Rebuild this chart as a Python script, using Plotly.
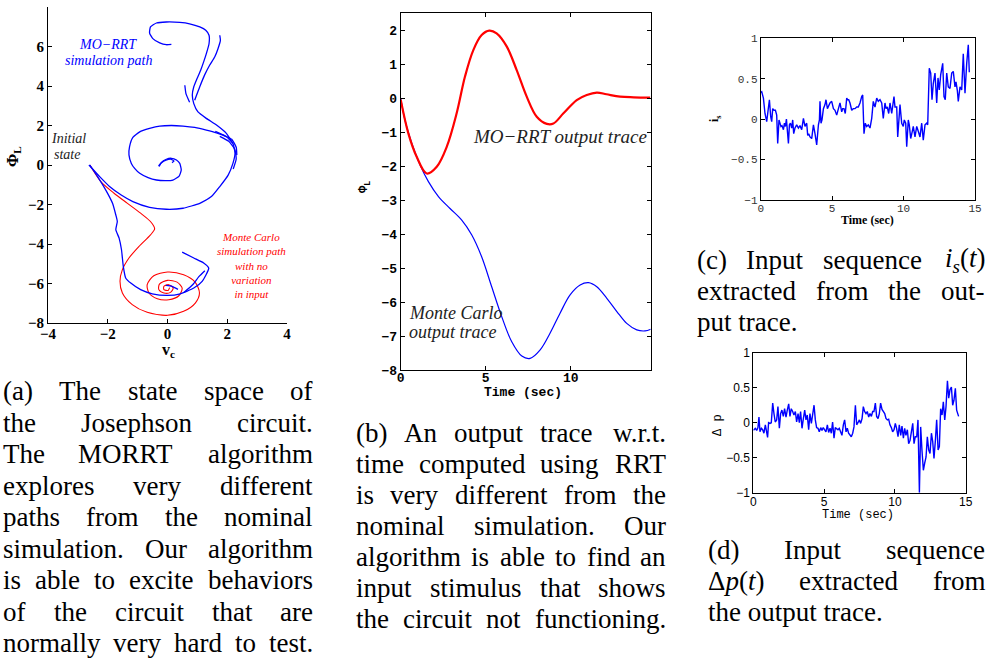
import plotly.graph_objects as go

W, H = 986, 664

# ---------------- Panel (a): state space (v_c , Phi_L) ----------------
# Monte Carlo path (red)
a_mc_vc = [-2.6, -2.23, -1.79, -1.34, -0.9, -0.57, -0.43, -0.57, -0.96, -1.29, -1.51, -1.59, -1.51,
           -1.18, -0.68, 0.0, 0.54, 0.93, 1.07, 0.93, 0.54, 0.0, -0.46, -0.68, -0.62, -0.34, 0.04,
           0.38, 0.49, 0.32, 0.0, -0.27, -0.29, -0.12, 0.1, 0.19, 0.04, -0.12, -0.12, 0.02, 0.07]
a_mc_phi = [0.0, -0.84, -1.43, -1.94, -2.44, -2.86, -3.23, -3.54, -4.13, -4.71, -5.3, -5.89, -6.48,
            -7.07, -7.46, -7.61, -7.41, -6.99, -6.48, -5.94, -5.56, -5.42, -5.61, -6.06, -6.48, -6.77, -6.82,
            -6.62, -6.23, -5.93, -5.84, -6.03, -6.31, -6.48, -6.45, -6.23, -6.06, -6.14, -6.31, -6.35, -6.21]

# MO-RRT tree branches (blue)
a_rrt_outer_vc = [-2.63, -2.27, -1.94, -1.55, -1.16, -0.6, -0.04, 0.52, 1.08, 1.47, 1.75, 2.03, 2.19, 2.26,
                  2.19, 1.97, 1.64, 1.3, 0.91, 0.52, 0.13, -0.26, -0.6, -0.93, -1.16, -1.27, -1.29, -1.21,
                  -1.1, -0.93, -0.65, -0.37, -0.04, 0.18, 0.39, 0.46, 0.41, 0.3, 0.13, -0.04, -0.21, -0.28]
a_rrt_outer_phi = [0.0, -0.59, -1.09, -1.52, -1.85, -2.14, -2.24, -2.19, -1.94, -1.6, -1.09, -0.51, 0.08, 0.59,
                   1.09, 1.43, 1.63, 1.77, 1.9, 1.97, 2.0, 1.97, 1.85, 1.68, 1.4, 0.93, 0.51, 0.08,
                   -0.17, -0.42, -0.64, -0.76, -0.79, -0.76, -0.56, -0.25, 0.08, 0.25, 0.34, 0.29, 0.12, -0.08]
a_rrt_core_vc = [-0.3, -0.2, -0.05, 0.1, 0.22, 0.15]
a_rrt_core_phi = [-0.05, 0.12, 0.25, 0.3, 0.2, 0.12]
a_rrt_upper_vc = [2.19, 1.97, 1.64, 1.3, 1.02, 0.88, 0.83, 0.88, 0.99, 1.11, 1.21, 1.3, 1.39, 1.39, 1.28,
                  1.08, 0.74, 0.41, -0.04, -0.37, -0.57, -0.6, -0.49, -0.26, -0.04, 0.13]
a_rrt_upper_phi = [1.09, 1.6, 2.02, 2.36, 2.69, 3.11, 3.54, 3.96, 4.38, 4.8, 5.22, 5.64, 6.14, 6.57, 6.82,
                   6.99, 7.15, 7.22, 7.24, 7.19, 6.99, 6.68, 6.4, 6.18, 6.09, 6.11]
a_rrt_side_vc = [0.91, 1.08, 1.24, 1.41, 1.58, 1.69, 1.77, 1.75]
a_rrt_side_phi = [3.28, 3.96, 4.55, 5.05, 5.47, 5.89, 6.31, 6.57]
a_rrt_stub_vc = [0.58, 0.62, 0.74]
a_rrt_stub_phi = [4.04, 3.6, 3.18]
a_rrt_bundle_vc = [1.75, 2.05, 2.25, 2.3, 2.2]
a_rrt_bundle_phi = [1.45, 1.2, 0.8, 0.3, -0.2]
a_rrt_bundle2_vc = [1.6, 1.9, 2.15, 2.3, 2.32]
a_rrt_bundle2_phi = [1.7, 1.5, 1.3, 0.9, 0.5]
a_rrt_lower_vc = [-2.6, -2.34, -2.07, -1.84, -1.73, -1.68, -1.73, -1.62, -1.54, -1.48, -1.4, -1.23, -0.9,
                  -0.51, 0.0, 0.43, 0.88, 1.16, 1.38, 1.21, 0.88, 0.49]
a_rrt_lower_phi = [0.0, -0.59, -1.26, -1.94, -2.53, -2.86, -3.28, -3.7, -4.29, -5.13, -5.72, -5.98, -6.31,
                   -6.52, -6.6, -6.52, -6.23, -5.89, -5.22, -4.96, -4.71, -4.41]
a_rrt_twig_vc = [0.55, 0.85, 1.05, 1.25]
a_rrt_twig_phi = [-6.45, -6.05, -5.65, -5.35]
a_rrt_twig2_vc = [-0.05, 0.15, 0.35]
a_rrt_twig2_phi = [-6.1, -6.15, -6.3]

a_xticks = [-4, -2, 0, 2, 4]
a_yticks = [-8, -6, -4, -2, 0, 2, 4, 6, 8]

# ---------------- Panel (b): output trace vs time ----------------
b_rrt_t = [0, 0.45, 0.94, 1.53, 2.12, 2.71, 3.29, 3.78, 4.27, 4.76, 5.21, 5.64, 6.24, 6.82, 7.41, 8.0,
           8.59, 8.98, 9.57, 10.35, 10.94, 11.53, 12.1, 12.9, 13.7, 14.67]
b_rrt_phi = [-0.05, -1.04, -1.73, -2.22, -2.02, -1.43, -0.45, 0.63, 1.41, 1.85, 1.98, 1.9, 1.51, 0.82, 0.04,
             -0.55, -0.76, -0.75, -0.45, -0.06, 0.09, 0.16, 0.11, 0.04, 0.02, 0.01]
b_mc_t = [0, 0.25, 0.65, 1.14, 1.63, 2.22, 2.9, 3.59, 4.18, 4.76, 5.35, 5.94, 6.53, 7.12, 7.61, 8.2, 8.78,
          9.37, 9.96, 10.55, 11.04, 11.53, 12.12, 12.71, 13.29, 13.88, 14.37, 14.7]
b_mc_phi = [0.0, -0.65, -1.33, -1.97, -2.46, -2.9, -3.25, -3.59, -4.03, -4.67, -5.55, -6.43, -7.17, -7.59,
            -7.66, -7.41, -6.92, -6.33, -5.79, -5.5, -5.43, -5.55, -5.89, -6.28, -6.63, -6.82, -6.85, -6.8]
b_xticks = [0, 5, 10]
b_yticks = [-8, -7, -6, -5, -4, -3, -2, -1, 0, 1, 2]

# ---------------- Panel (c): input sequence i_s(t) ----------------
c_t = [0.0, 0.07, 0.19, 0.30, 0.42, 0.54, 0.61, 0.70, 0.77, 0.84,
       0.93, 1.03, 1.12, 1.19, 1.28, 1.35, 1.42, 1.49, 1.59, 1.66,
       1.73, 1.80, 1.87, 1.94, 2.01, 2.08, 2.17, 2.24, 2.31, 2.40,
       2.52, 2.64, 2.75, 2.87, 2.99, 3.10, 3.22, 3.29, 3.36, 3.45,
       3.57, 3.69, 3.80, 3.92, 4.04, 4.11, 4.15, 4.22, 4.29, 4.39,
       4.50, 4.57, 4.67, 4.76, 4.85, 4.97, 5.09, 5.20, 5.32, 5.44,
       5.55, 5.67, 5.74, 5.83, 5.92, 6.02, 6.09, 6.16, 6.25, 6.37,
       6.48, 6.60, 6.72, 6.83, 6.95, 7.07, 7.14, 7.23, 7.32, 7.42,
       7.53, 7.65, 7.77, 7.88, 8.00, 8.12, 8.23, 8.35, 8.47, 8.58,
       8.70, 8.77, 8.86, 8.96, 9.05, 9.17, 9.24, 9.33, 9.40, 9.52,
       9.59, 9.68, 9.75, 9.87, 9.98, 10.05, 10.15, 10.22, 10.33, 10.40,
       10.50, 10.61, 10.68, 10.80, 10.92, 11.03, 11.15, 11.27, 11.38, 11.50,
       11.62, 11.69, 11.80, 11.90, 11.99, 12.08, 12.20, 12.32, 12.41, 12.50,
       12.60, 12.74, 12.83, 12.92, 13.02, 13.13, 13.25, 13.37, 13.48, 13.60,
       13.67, 13.76, 13.83, 13.95, 14.07, 14.18, 14.30, 14.42, 14.53, 14.60]
c_is = [0.33, 0.34, 0.26, 0.07, -0.03, 0.13, 0.24, 0.03, -0.03, 0.13,
        0.11, 0.11, 0.05, -0.30, -0.01, -0.05, -0.09, -0.08, -0.13, -0.05,
        -0.09, 0.00, -0.20, -0.30, -0.07, -0.05, -0.11, -0.01, -0.18, -0.11,
        -0.07, -0.11, -0.08, -0.13, 0.01, -0.09, -0.05, -0.20, -0.18, -0.22,
        -0.24, -0.07, -0.18, -0.32, -0.07, -0.01, 0.22, -0.05, -0.01, 0.13,
        0.18, 0.24, 0.13, 0.18, 0.20, 0.22, 0.13, 0.11, 0.05, 0.13,
        0.20, 0.09, 0.13, 0.13, 0.07, 0.26, 0.24, 0.24, 0.20, 0.11,
        0.13, 0.13, 0.15, 0.15, 0.20, 0.28, 0.30, -0.18, -0.05, -0.09,
        -0.07, -0.11, 0.01, 0.22, 0.15, 0.26, 0.22, 0.24, 0.20, 0.01,
        0.20, 0.13, 0.15, 0.07, 0.20, 0.07, 0.18, 0.28, 0.15, 0.15,
        -0.22, 0.05, 0.18, -0.05, -0.09, -0.01, -0.05, -0.34, -0.01, -0.07,
        -0.24, -0.15, -0.09, -0.22, -0.09, -0.15, -0.22, -0.05, -0.26, -0.07,
        -0.05, -0.07, 0.63, 0.57, 0.24, 0.44, 0.57, 0.20, 0.51, 0.36,
        0.55, 0.69, 0.28, 0.24, 0.57, 0.40, 0.38, 0.57, 0.59, 0.40,
        0.46, 0.36, 0.22, 0.40, 0.36, 0.81, 0.32, 0.69, 0.92, 0.58]

# ---------------- Panel (d): input sequence Delta p(t) ----------------
d_t = [0.00, 0.05, 0.14, 0.24, 0.33, 0.40, 0.47, 0.57, 0.66, 0.75,
       0.85, 0.94, 1.01, 1.08, 1.18, 1.27, 1.37, 1.46, 1.55, 1.65,
       1.74, 1.84, 1.93, 2.02, 2.12, 2.21, 2.31, 2.40, 2.50, 2.59,
       2.68, 2.78, 2.87, 2.97, 3.06, 3.16, 3.25, 3.34, 3.44, 3.53,
       3.63, 3.72, 3.81, 3.91, 4.00, 4.10, 4.19, 4.29, 4.38, 4.47,
       4.57, 4.66, 4.76, 4.85, 4.94, 5.04, 5.13, 5.23, 5.32, 5.42,
       5.51, 5.60, 5.70, 5.79, 5.89, 5.98, 6.07, 6.17, 6.26, 6.36,
       6.45, 6.55, 6.64, 6.73, 6.83, 6.92, 7.02, 7.11, 7.21, 7.30,
       7.39, 7.49, 7.58, 7.68, 7.77, 7.86, 7.96, 8.05, 8.15, 8.24,
       8.34, 8.43, 8.52, 8.62, 8.71, 8.81, 8.90, 8.99, 9.09, 9.18,
       9.28, 9.37, 9.47, 9.56, 9.65, 9.75, 9.84, 9.94, 10.03, 10.12,
       10.22, 10.31, 10.41, 10.50, 10.60, 10.69, 10.78, 10.88, 10.97, 11.07,
       11.16, 11.26, 11.35, 11.44, 11.54, 11.63, 11.73, 11.82, 11.91, 12.01,
       12.10, 12.20, 12.29, 12.39, 12.48, 12.58, 12.67, 12.76, 12.86, 12.95,
       13.05, 13.14, 13.23, 13.33, 13.42, 13.52, 13.61, 13.71, 13.80, 13.89,
       13.99, 14.08, 14.17, 14.27, 14.36, 14.46, 14.50]
d_dp = [-0.10, -0.10, -0.08, -0.11, -0.07, 0.08, -0.13, -0.08, -0.10, -0.15,
        -0.03, -0.13, -0.21, 0.00, -0.01, 0.00, 0.28, 0.13, 0.01, 0.04,
        0.23, -0.08, 0.13, 0.18, 0.09, 0.20, 0.08, 0.18, 0.27, 0.09,
        0.20, 0.16, 0.11, 0.16, 0.01, 0.13, 0.00, 0.16, -0.08, 0.05,
        0.18, 0.04, 0.11, -0.10, 0.13, -0.01, 0.09, 0.25, 0.04, -0.07,
        -0.08, -0.13, -0.07, -0.11, -0.07, -0.10, -0.13, -0.03, -0.14, -0.08,
        -0.15, 0.01, -0.22, -0.07, -0.08, -0.10, -0.08, -0.15, -0.18, -0.03,
        0.04, -0.13, -0.08, -0.15, -0.18, -0.20, -0.15, -0.06, 0.25, -0.03,
        0.00, 0.04, -0.01, 0.06, 0.23, 0.16, 0.13, 0.16, 0.08, 0.13,
        0.09, 0.16, 0.16, 0.28, 0.09, 0.06, 0.13, 0.28, 0.19, 0.16,
        0.13, 0.06, 0.04, 0.05, -0.03, -0.07, -0.13, -0.10, -0.01, -0.08,
        -0.20, -0.03, -0.18, -0.05, -0.22, -0.08, -0.18, -0.10, -0.30, -0.25,
        -0.13, -0.01, -0.30, -0.20, -0.20, 0.04, -1.00, -0.06, -0.39, -0.68,
        -0.58, -0.49, -0.20, -0.39, -0.44, -0.15, -0.27, -0.51, -0.25, 0.04,
        -0.39, -0.34, 0.20, 0.11, 0.30, 0.04, 0.23, 0.60, 0.35, 0.47,
        0.51, 0.25, 0.32, 0.49, 0.18, 0.11, 0.09]
cd_xticks = [0, 5, 10, 15]
cd_yticks = [-1, -0.5, 0, 0.5, 1]

# ---------------- Captions ----------------
cap_a = ["(a) The state space of", "the Josephson circuit.", "The MORRT algorithm",
         "explores very different", "paths from the nominal", "simulation. Our algorithm",
         "is able to excite behaviors", "of the circuit that are", "normally very hard to test."]
cap_b = ["(b) An output trace w.r.t.", "time computed using RRT", "is very different from the",
         "nominal simulation. Our", "algorithm is able to find an", "input stimulus that shows",
         "the circuit not functioning."]
cap_c = ["(c) Input sequence i_s(t)", "extracted from the out-", "put trace."]
cap_d = ["(d) Input sequence", "Δp(t) extracted from", "the output trace."]

# ====================================================================
BLUE = "#0000ff"
RED = "#ff0000"
SERIF = "Liberation Serif, Times New Roman, serif"
MONO = "Liberation Mono, Courier New, monospace"
SANS = "Liberation Sans, Arial, sans-serif"


def fx(px):
    return px / W


def fy(py):
    return 1 - py / H


fig = go.Figure()

# (a)
fig.add_trace(go.Scatter(x=a_mc_vc, y=a_mc_phi, mode="lines", xaxis="x", yaxis="y",
                         line=dict(color=RED, width=1.1, shape="spline", smoothing=0.8)))
for vc, phi in [(a_rrt_outer_vc, a_rrt_outer_phi), (a_rrt_core_vc, a_rrt_core_phi),
                (a_rrt_upper_vc, a_rrt_upper_phi), (a_rrt_side_vc, a_rrt_side_phi),
                (a_rrt_stub_vc, a_rrt_stub_phi), (a_rrt_bundle_vc, a_rrt_bundle_phi),
                (a_rrt_bundle2_vc, a_rrt_bundle2_phi), (a_rrt_lower_vc, a_rrt_lower_phi),
                (a_rrt_twig_vc, a_rrt_twig_phi), (a_rrt_twig2_vc, a_rrt_twig2_phi)]:
    fig.add_trace(go.Scatter(x=vc, y=phi, mode="lines", xaxis="x", yaxis="y",
                             line=dict(color=BLUE, width=1.3, shape="spline", smoothing=0.5)))

# (b)
fig.add_trace(go.Scatter(x=b_mc_t, y=b_mc_phi, mode="lines", xaxis="x2", yaxis="y2",
                         line=dict(color=BLUE, width=1.2, shape="spline")))
fig.add_trace(go.Scatter(x=b_rrt_t, y=b_rrt_phi, mode="lines", xaxis="x2", yaxis="y2",
                         line=dict(color=RED, width=2.2, shape="spline")))

# (c)
fig.add_trace(go.Scatter(x=c_t, y=c_is, mode="lines", xaxis="x3", yaxis="y3",
                         line=dict(color=BLUE, width=1.4)))
# (d)
fig.add_trace(go.Scatter(x=d_t, y=d_dp, mode="lines", xaxis="x4", yaxis="y4",
                         line=dict(color=BLUE, width=1.4)))


def axis(domain, rng, ticks, font, mirror, anchor, standoff=0):
    return dict(domain=domain, range=rng, tickvals=ticks, tickfont=font, anchor=anchor,
                showline=True, linecolor="black", linewidth=1, mirror=mirror,
                ticks="inside", ticklen=4, tickcolor="black", tickwidth=1,
                ticklabelstandoff=standoff,
                showgrid=False, zeroline=False, fixedrange=True, automargin=False)


fa = dict(family=SERIF, size=15, color="black", weight="bold")
fb = dict(family=MONO, size=13, color="black", weight="bold")
fc = dict(family=MONO, size=11, color="#333333")
fd = dict(family=SANS, size=12, color="black")

fig.update_layout(
    width=W, height=H, autosize=False, showlegend=False,
    margin=dict(l=0, r=0, t=0, b=0, pad=0),
    paper_bgcolor="white", plot_bgcolor="white",
    xaxis=axis([fx(48), fx(287)], [-4, 4], a_xticks, fa, False, "y", -3),
    yaxis=axis([fy(323), fy(7)], [-8, 8], a_yticks, fa, False, "x"),
    xaxis2=axis([fx(400.7), fx(650.7)], [0, 14.7], b_xticks, fb, "ticks", "y2", -5),
    yaxis2=axis([fy(370), fy(13)], [-8, 2.5], b_yticks, fb, "ticks", "x2"),
    xaxis3=axis([fx(760.7), fx(975)], [0, 15], cd_xticks, fc, "ticks", "y3", -2),
    yaxis3=axis([fy(200), fy(38.3)], [-1, 1], cd_yticks, fc, "ticks", "x3"),
    xaxis4=axis([fx(753.3), fx(965.7)], [0, 15], cd_xticks, fd, "ticks", "y4", -2),
    yaxis4=axis([fy(492.7), fy(352.7)], [-1, 1], cd_yticks, fd, "ticks", "x4"),
)

ann = []


def label(text, x, y, size, family=SERIF, color="black", xanchor="center", angle=0):
    ann.append(dict(text=text, x=fx(x), y=fy(y), xref="paper", yref="paper", showarrow=False,
                    xanchor=xanchor, yanchor="middle", textangle=angle, borderpad=0, borderwidth=0,
                    font=dict(family=family, size=size, color=color)))


# axis titles
label("<b>Φ<sub>L</sub></b>", 13, 157, 16, angle=-90)
label("<b>v<sub>c</sub></b>", 168, 350, 16)
label("<b>Time (sec)</b>", 523, 392, 13, family=MONO)
label("<b>Φ<sub>L</sub></b>", 365, 187, 12, family=MONO, angle=-90)
label("<b>Time (sec)</b>", 867, 220, 12)
label("<b>i<sub>s</sub></b>", 715, 119, 12, angle=-90)
label("Time (sec)", 858, 515, 12, family=MONO)
label("Δ p", 718, 425, 12, family=MONO, angle=-90)

# in-plot text (a)
label("<i>MO−RRT</i>", 108, 45, 14, color=BLUE)
label("<i>simulation path</i>", 109, 60, 14, color=BLUE)
label("<i>Initial</i>", 68, 138, 14, color="#222222")
label("<i>state</i>", 67, 154, 14, color="#222222")
label("<i>Monte Carlo<br>simulation path<br>with no<br>variation<br>in input</i>", 251, 265, 11, color=RED)
# in-plot text (b)
label("<i>MO−RRT output trace</i>", 560, 136, 19, color="#222222")
label("<i>Monte Carlo</i>", 409, 313, 18, color="#222222", xanchor="left")
label("<i>output trace</i>", 409, 332, 18, color="#222222", xanchor="left")

# captions with justified lines
TW = {'a': .444, 'b': .5, 'c': .444, 'd': .5, 'e': .444, 'f': .333, 'g': .5, 'h': .5, 'i': .278,
      'j': .278, 'k': .5, 'l': .278, 'm': .778, 'n': .5, 'o': .5, 'p': .5, 'q': .5, 'r': .333,
      's': .389, 't': .278, 'u': .5, 'v': .5, 'w': .722, 'x': .5, 'y': .5, 'z': .444,
      'A': .722, 'B': .667, 'C': .667, 'D': .722, 'E': .611, 'F': .556, 'G': .722, 'H': .722,
      'I': .333, 'J': .389, 'K': .722, 'L': .611, 'M': .889, 'N': .722, 'O': .722, 'P': .556,
      'Q': .722, 'R': .667, 'S': .556, 'T': .611, 'U': .722, 'V': .722, 'W': .944, 'X': .722,
      'Y': .722, 'Z': .611, '(': .333, ')': .333, '.': .25, ',': .25, '-': .333, 'Δ': .61, '_': 0}
SPECIAL = {"i_s(t)": "<i>i<sub>s</sub></i>(<i>t</i>)", "Δp(t)": "Δ<i>p</i>(<i>t</i>)"}
CAP_SIZE = 27


def wwidth(word):
    return sum(TW.get(ch, .5) for ch in word) * CAP_SIZE


def caption(lines, left, right, y0, dy, justify_last):
    for k, line in enumerate(lines):
        y = y0 + k * dy
        words = line.split()
        if k == len(lines) - 1 and not justify_last:
            label(" ".join(SPECIAL.get(w, w) for w in words), left, y, CAP_SIZE, xanchor="left")
            continue
        widths = [wwidth(w) for w in words]
        gap = (right - left - sum(widths)) / (len(words) - 1)
        x = left
        for j, (w, wd) in enumerate(zip(words, widths)):
            if j == len(words) - 1:
                label(SPECIAL.get(w, w), right, y, CAP_SIZE, xanchor="right")
            else:
                label(SPECIAL.get(w, w), x, y, CAP_SIZE, xanchor="left")
            x += wd + gap


caption(cap_a, 3, 313, 391, 31.5, True)
caption(cap_b, 356, 666, 433, 31, True)
caption(cap_c, 697, 985, 260, 31, False)
caption(cap_d, 708, 985, 550, 31, False)

fig.update_layout(annotations=ann)
fig.write_html("out.html")
